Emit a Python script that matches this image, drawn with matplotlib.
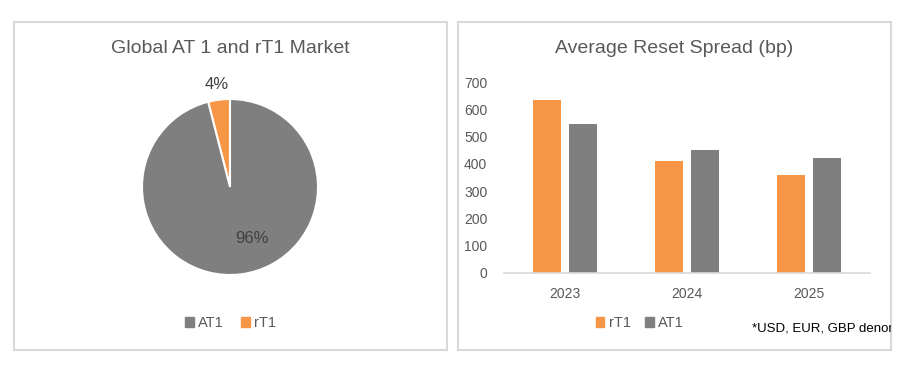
import matplotlib.pyplot as plt
from matplotlib.patches import Patch
import numpy as np

plt.rcParams['font.family'] = ['Liberation Sans', 'DejaVu Sans']

# Data
pie_labels = ["rT1", "AT1"]
pie_values = [4, 96]

years = ["2023", "2024", "2025"]
rt1_spread = [635, 410, 358]
at1_spread = [546, 452, 421]

orange = "#F79646"
grey = "#7F7F7F"
text_col = "#595959"
border = "#D9D9D9"

W, H = 907, 379
fig = plt.figure(figsize=(W / 100, H / 100), dpi=100)


def px(x0, y0, x1, y1):
    # pixel box (top-left origin) -> figure fraction
    return [x0 / W, 1 - y1 / H, (x1 - x0) / W, (y1 - y0) / H]


def panel(box):
    ax = fig.add_axes(px(*box))
    ax.set_xticks([])
    ax.set_yticks([])
    for s in ax.spines.values():
        s.set_color(border)
        s.set_linewidth(1.5)
    ax.set_xlim(0, 1)
    ax.set_ylim(0, 1)
    return ax


# ---- Left panel: pie ----
left = panel((14, 22, 447, 350))
left.text(0.5, 0.92, "Global AT 1 and rT1 Market", ha="center", va="center",
          fontsize=14, color=text_col)

pax = fig.add_axes(px(142, 99, 318, 275))
wedges, _ = pax.pie(pie_values, colors=[orange, grey], startangle=90,
                    counterclock=True, radius=1,
                    wedgeprops=dict(edgecolor="white", linewidth=1.5))
pax.set_xlim(-1, 1)
pax.set_ylim(-1, 1)
pax.set_aspect("equal")
pax.axis("off")

# percentage labels
for w, v, r, shift in zip(wedges, pie_values, [1.17, 0.64], [0, 16]):
    ang = np.deg2rad((w.theta1 + w.theta2) / 2 + shift)
    pax.text(r * np.cos(ang), r * np.sin(ang), f"{v}%", ha="center", va="center",
             fontsize=12, color="#404040", clip_on=False)

left.legend(handles=[Patch(color=grey, label="AT1"), Patch(color=orange, label="rT1")],
            loc="center", bbox_to_anchor=(0.5, 0.082), ncol=2, frameon=False,
            fontsize=10.5, labelcolor=text_col, handlelength=0.6, handleheight=0.6,
            handletextpad=0.3, columnspacing=1.2)

# ---- Right panel: bars ----
right = panel((458, 22, 891, 350))
right.text(0.5, 0.92, "Average Reset Spread (bp)", ha="center", va="center",
           fontsize=14, color=text_col)
right.text(0.68, 0.067, "*USD, EUR, GBP denominated", ha="left", va="center",
           fontsize=9.5, color="black", clip_on=True)

bax = fig.add_axes(px(504, 82, 870, 273))
x = np.arange(len(years))
bw = 0.23
bax.bar(x - 0.145, rt1_spread, bw, color=orange, label="rT1")
bax.bar(x + 0.145, at1_spread, bw, color=grey, label="AT1")
bax.set_xlim(-0.5, 2.5)
bax.set_ylim(0, 700)
bax.set_yticks(range(0, 701, 100))
bax.set_xticks(x)
bax.set_xticklabels(years)
bax.tick_params(length=0, labelsize=10, colors=text_col, pad=12)
bax.tick_params(axis="x", pad=10)
for s in ["top", "right", "left"]:
    bax.spines[s].set_visible(False)
bax.spines["bottom"].set_color(border)
bax.spines["bottom"].set_linewidth(1.2)
bax.set_facecolor("none")

right.legend(handles=[Patch(color=orange, label="rT1"), Patch(color=grey, label="AT1")],
             loc="center", bbox_to_anchor=(0.42, 0.082), ncol=2, frameon=False,
             fontsize=10.5, labelcolor=text_col, handlelength=0.6, handleheight=0.6,
             handletextpad=0.3, columnspacing=1.0)

fig.savefig("out.png", dpi=100)
